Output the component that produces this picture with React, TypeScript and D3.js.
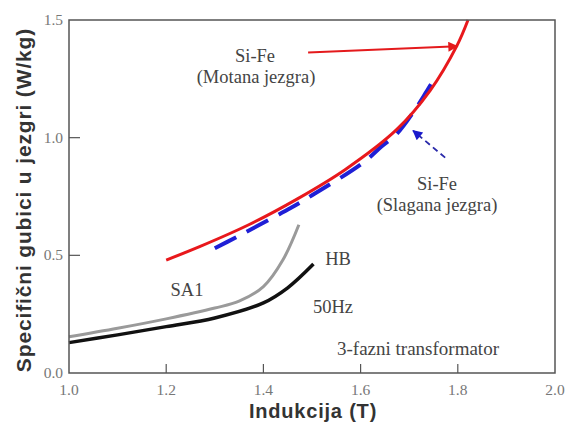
import React from "react";
import * as d3 from "d3";

const xTicks = [1.0, 1.2, 1.4, 1.6, 1.8, 2.0];
const yTicks = [0.0, 0.5, 1.0, 1.5];

const motanaX = [1.2, 1.27, 1.372, 1.47, 1.568, 1.674, 1.743, 1.798, 1.821];
const motanaY = [0.48, 0.538, 0.632, 0.74, 0.864, 1.034, 1.2, 1.39, 1.5];

const slaganaX = [1.3, 1.345, 1.376, 1.423, 1.455, 1.5, 1.606, 1.643, 1.674, 1.712, 1.736, 1.757];
const slaganaY = [0.53, 0.578, 0.612, 0.664, 0.7, 0.755, 0.895, 0.963, 1.015, 1.119, 1.197, 1.268];

const sa1X = [1.0, 1.1, 1.2, 1.3, 1.35, 1.4, 1.44, 1.473];
const sa1Y = [0.154, 0.19, 0.23, 0.276, 0.305, 0.367, 0.48, 0.63];

const hbX = [1.0, 1.1, 1.2, 1.3, 1.4, 1.45, 1.503];
const hbY = [0.129, 0.162, 0.197, 0.234, 0.298, 0.362, 0.463];

const W = 570;
const H = 425;
const L = 69, R = 555, T = 20, B = 373;

export default function App() {
  const x = d3.scaleLinear().domain([1, 2]).range([L, R]);
  const y = d3.scaleLinear().domain([0, 1.5]).range([B, T]);
  const line = d3
    .line<[number, number]>()
    .x((d) => x(d[0]))
    .y((d) => y(d[1]))
    .curve(d3.curveCatmullRom.alpha(0.5));
  const zip = (a: number[], b: number[]) => a.map((v, i) => [v, b[i]] as [number, number]);

  const serif = "'Liberation Serif', 'DejaVu Serif', serif";
  const sans = "'Liberation Sans', Arial, sans-serif";

  return (
    <svg width={W} height={H} style={{ position: "absolute", left: 0, top: 0, background: "#fff" }}>
      <defs>
        <marker id="arRed" viewBox="0 0 10 10" refX="9" refY="5" markerWidth="14" markerHeight="10" orient="auto" markerUnits="userSpaceOnUse">
          <path d="M0,0 L10,5 L0,10 z" fill="#e41a1c" />
        </marker>
        <marker id="arBlue" viewBox="0 0 10 10" refX="9" refY="5" markerWidth="12" markerHeight="10" orient="auto" markerUnits="userSpaceOnUse">
          <path d="M0,0 L10,5 L0,10 z" fill="#1a1acc" />
        </marker>
      </defs>
      <rect x={0} y={0} width={W} height={H} fill="#fff" />
      {/* curves */}
      <path d={line(zip(sa1X, sa1Y)) || ""} fill="none" stroke="#9a9a9a" strokeWidth={3} />
      <path d={line(zip(hbX, hbY)) || ""} fill="none" stroke="#111" strokeWidth={3.5} />
      <path d={line(zip(slaganaX, slaganaY)) || ""} fill="none" stroke="#1f1fd6" strokeWidth={4} strokeDasharray="24 12" />
      <path d={line(zip(motanaX, motanaY)) || ""} fill="none" stroke="#e8181c" strokeWidth={3} />
      {/* arrows */}
      <line x1={x(1.492)} y1={y(1.362)} x2={x(1.799)} y2={y(1.388)} stroke="#e41a1c" strokeWidth={2} markerEnd="url(#arRed)" />
      <line x1={x(1.774)} y1={y(0.915)} x2={x(1.708)} y2={y(1.03)} stroke="#2a2aaa" strokeWidth={1.8} strokeDasharray="6 4" markerEnd="url(#arBlue)" />
      {/* frame */}
      <rect x={L} y={T} width={R - L} height={B - T} fill="none" stroke="#555" strokeWidth={1.5} />
      {/* ticks */}
      {xTicks.slice(1, -1).map((t) => (
        <line key={"xt" + t} x1={x(t)} x2={x(t)} y1={B} y2={B - 9} stroke="#555" strokeWidth={1.2} />
      ))}
      {yTicks.slice(1, -1).map((t) => (
        <line key={"yt" + t} x1={L} x2={L + 11} y1={y(t)} y2={y(t)} stroke="#555" strokeWidth={1.2} />
      ))}
      {xTicks.map((t) => (
        <text key={"xl" + t} x={x(t)} y={395} textAnchor="middle" fontFamily={serif} fontSize={15.5} fill="#777">
          {t.toFixed(1)}
        </text>
      ))}
      {yTicks.map((t) => (
        <text key={"yl" + t} x={63} y={y(t) + 5} textAnchor="end" fontFamily={serif} fontSize={15.5} fill="#777">
          {t.toFixed(1)}
        </text>
      ))}
      {/* axis titles */}
      <text x={313} y={418} textAnchor="middle" fontFamily={sans} fontWeight="bold" fontSize={20} letterSpacing={0.8} fill="#333">
        Indukcija (T)
      </text>
      <text transform="translate(31,200) rotate(-90)" textAnchor="middle" fontFamily={sans} fontWeight="bold" fontSize={21} letterSpacing={0.85} fill="#333">
        Specifični gubici u jezgri  (W/kg)
      </text>
      {/* annotations */}
      <g fontFamily={serif} fontSize={18.5} fill="#444" textAnchor="middle">
        <text x={255} y={62}>Si-Fe</text>
        <text x={256} y={83}>(Motana jezgra)</text>
        <text x={437} y={190}>Si-Fe</text>
        <text x={437} y={211}>(Slagana jezgra)</text>
        <text x={187} y={296}>SA1</text>
        <text x={338} y={265}>HB</text>
        <text x={333} y={313}>50Hz</text>
        <text x={418} y={355} fontSize={19}>3-fazni transformator</text>
      </g>
    </svg>
  );
}
